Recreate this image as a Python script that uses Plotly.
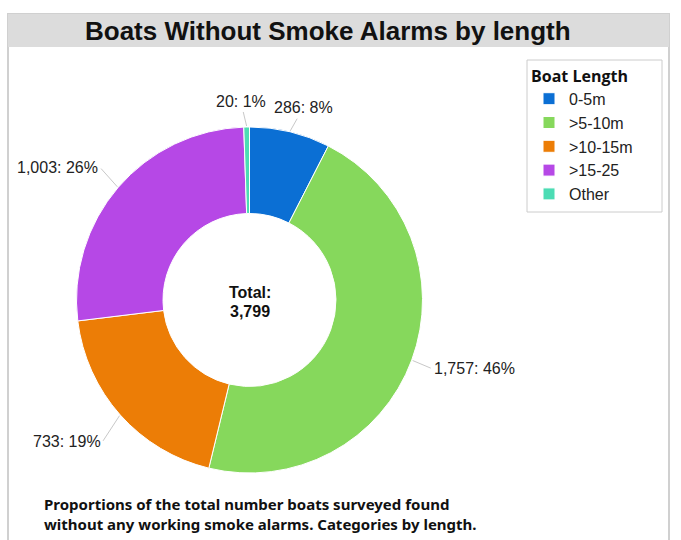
import math
import plotly.graph_objects as go

categories = ["0-5m", ">5-10m", ">10-15m", ">15-25", "Other"]
values = [286, 1757, 733, 1003, 20]
colors = ["#0b6fd4", "#86d85c", "#ec7d06", "#b648e6", "#4cdcb4"]
title_text = "Boats Without Smoke Alarms by length"
legend_title = "Boat Length"
caption = ("Proportions of the total number boats surveyed found<br>"
           "without any working smoke alarms. Categories by length.")

# label leader-line offsets (pixels) and text anchors, per slice (styling only)
label_style = [(13, -23, "center"), (19, 8, "left"), (-17, 26, "right"),
               (-17, -19, "right"), (-6, -25, "center")]

W, H = 681, 540
total = sum(values)

# pie placement (pixels)
cx, cy, r = 249.5, 300, 173
dom_x = [(cx - r) / W, (cx + r) / W]
dom_y = [(H - cy - r) / H, (H - cy + r) / H]

fig = go.Figure(go.Pie(
    labels=categories,
    values=values,
    hole=0.5,
    sort=False,
    direction="clockwise",
    rotation=0,
    marker=dict(colors=colors, line=dict(color="white", width=1)),
    textinfo="none",
    domain=dict(x=dom_x, y=dom_y),
    showlegend=True,
    hoverinfo="label+value+percent",
))

# outside labels with leader lines, anchored at the slice mid-angles
label_anns = []
cum = 0
for v, (ox, oy, xa) in zip(values, label_style):
    mid = (cum + v / 2) / total
    cum += v
    a = 2 * math.pi * mid
    sx, sy = math.sin(a), -math.cos(a)
    px, py = cx + (r + 1) * sx, cy + (r + 1) * sy
    pct = round(100 * v / total)
    label_anns.append(dict(
        text=f"{v:,}: {pct}%", xref="paper", yref="paper",
        x=px / W, y=(H - py) / H, ax=ox, ay=oy,
        xanchor=xa, yanchor="middle",
        showarrow=True, arrowhead=0, arrowwidth=1, arrowcolor="#c8c8c8",
        standoff=0, startstandoff=1,
        font=dict(family="Liberation Sans, Arial", size=16, color="#222"),
    ))

fig.update_layout(
    width=W, height=H,
    margin=dict(l=0, r=0, t=0, b=0),
    paper_bgcolor="white",
    plot_bgcolor="white",
    legend=dict(
        title=dict(text="<b>" + legend_title + "</b>",
                   font=dict(family="Open Sans, Noto Sans", size=16, color="#111")),
        font=dict(family="Liberation Sans, Arial", size=16, color="#222"),
        x=529 / W, y=(H - 61) / H, xanchor="left", yanchor="top",
        borderwidth=0,
        bgcolor="rgba(255,255,255,0)",
        itemwidth=30,
        itemclick=False,
    ),
    shapes=[
        dict(type="rect", xref="paper", yref="paper",
             x0=8 / W, x1=669 / W, y0=-0.05, y1=(H - 14) / H,
             line=dict(color="#d0d0d0", width=2), fillcolor="rgba(0,0,0,0)", layer="below"),
        dict(type="rect", xref="paper", yref="paper",
             x0=8 / W, x1=669 / W, y0=(H - 47) / H, y1=(H - 14) / H,
             line=dict(width=0), fillcolor="#dcdcdc", layer="below"),
        dict(type="rect", xref="paper", yref="paper",
             x0=527 / W, x1=662 / W, y0=(H - 212) / H, y1=(H - 60) / H,
             line=dict(color="#cccccc", width=1), fillcolor="white", layer="below"),
    ],
    annotations=[
        dict(text="<b>" + title_text + "</b>", xref="paper", yref="paper",
             x=328 / W, y=(H - 31) / H, xanchor="center", yanchor="middle",
             showarrow=False,
             font=dict(family="Liberation Sans, Arial", size=26, color="#111")),
        dict(text="<b>Total:</b>", xref="paper", yref="paper",
             x=cx / W, y=(H - 292) / H, xanchor="center", yanchor="middle",
             showarrow=False,
             font=dict(family="Liberation Sans, Arial", size=16, color="#111")),
        dict(text="<b>" + f"{total:,}" + "</b>", xref="paper", yref="paper",
             x=cx / W, y=(H - 311) / H, xanchor="center", yanchor="middle",
             showarrow=False,
             font=dict(family="Liberation Sans, Arial", size=16, color="#111")),
        dict(text="<b>" + caption + "</b>", xref="paper", yref="paper",
             x=42 / W, y=(H - 514) / H, xanchor="left", yanchor="middle", align="left",
             showarrow=False,
             font=dict(family="Noto Sans", size=15, color="#111")),
    ] + label_anns,
)

fig.write_html("out.html", config={"displayModeBar": False},
               post_script="document.body.style.margin='0px';")
